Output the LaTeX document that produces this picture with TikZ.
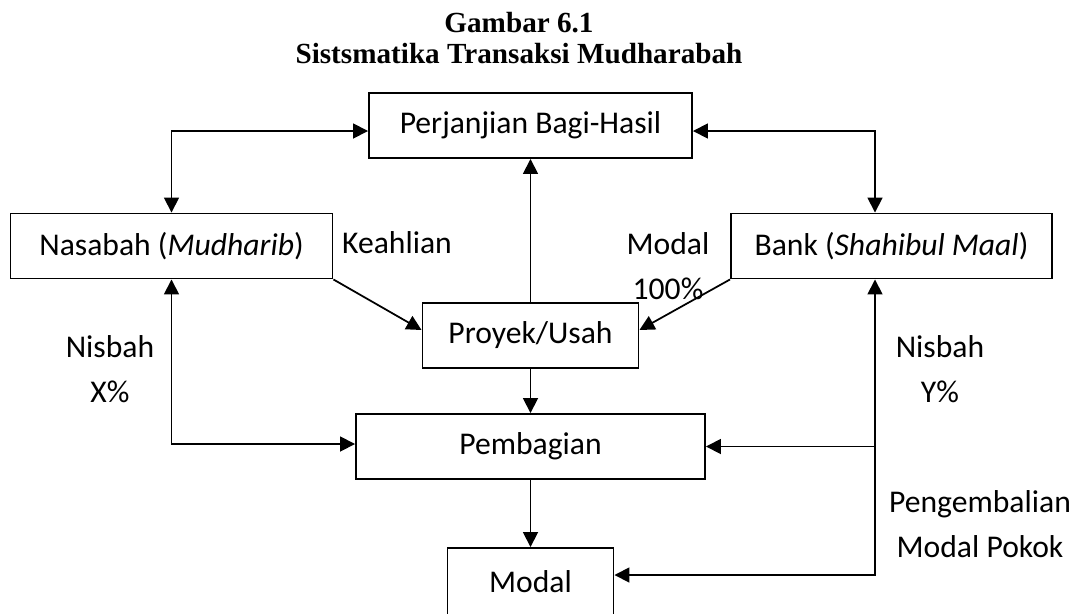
\documentclass[tikz,border=0pt]{standalone}
\usepackage{fontspec}
\setmainfont{Carlito}
\newfontfamily\titlefont{Liberation Serif}
\usetikzlibrary{shapes,arrows,arrows.meta}

\begin{document}
\begin{tikzpicture}[>={Triangle[length=8.5pt,width=8.5pt]},line width=1pt,
  node distance=2cm,
  box/.style={rectangle,draw,line width=1.1pt,minimum height=1.3cm,font=\fontsize{18}{21}\selectfont},
  lbl/.style={align=center,font=\fontsize{18}{25.6}\selectfont},
  head/.style={anchor=base,font=\titlefont\bfseries\fontsize{16.6}{17.6}\selectfont}]

  \useasboundingbox (0,0) rectangle (21.64,-12.26);

  \node[head] (title1) at (10.38,-0.64) {Gambar 6.1};
  \node[head] (title2) at (10.38,-1.26) {Sistsmatika Transaksi Mudharabah};

  \node[box,minimum width=6.46cm] (pbh) at (10.61,-2.51) {Perjanjian Bagi-Hasil};
  \node[box,minimum width=4.32cm] (proyek) [below of=pbh, node distance=4.2cm] {Proyek/Usah};
  \node[box,minimum width=6.98cm] (pembagian) [below of=proyek, node distance=2.22cm] {Pembagian};
  \node[box,minimum width=3.32cm,minimum height=1.34cm] (modal) [below of=pembagian, node distance=2.70cm] {Modal};
  \node[box,minimum width=6.44cm] (nasabah) [left of=proyek, node distance=7.18cm, yshift=1.79cm] {Nasabah (\textit{Mudharib})};
  \node[box,minimum width=6.42cm] (bank) [right of=proyek, node distance=7.22cm, yshift=1.79cm] {Bank (\textit{Shahibul Maal})};

  \node[lbl] (keahlian) at (7.94,-4.86) {Keahlian};
  \node[lbl] (modal100) at (13.36,-5.33) {Modal\\100\%};
  \node[lbl] (nisbahx) at (2.2,-7.39) {Nisbah\\X\%};
  \node[lbl] (nisbahy) at (18.8,-7.39) {Nisbah\\Y\%};
  \node[lbl] (kembali) at (19.6,-10.49) {Pengembalian\\Modal Pokok};

  \coordinate (bankfoot) at ([xshift=-0.33cm]bank.south);

  \path[->]
    (proyek) edge (pbh)
    (proyek) edge (pembagian)
    (pembagian) edge (modal)
    (nasabah.south east) edge ([yshift=0.11cm]proyek.west)
    (bank.south west) edge ([yshift=0.11cm]proyek.east);

  \draw[<->] (nasabah.north) |- ([yshift=-0.11cm]pbh.west);
  \draw[<->] ([xshift=-0.33cm]bank.north) |- ([yshift=-0.11cm]pbh.east);
  \draw[<->] (nasabah.south) |- ([yshift=0.05cm]pembagian.west);
  \draw[<->] (bankfoot) |- ([yshift=0.13cm]modal.east);
  \draw[->] (bankfoot |- pembagian.east) -- (pembagian.east);
\end{tikzpicture}
\end{document}
